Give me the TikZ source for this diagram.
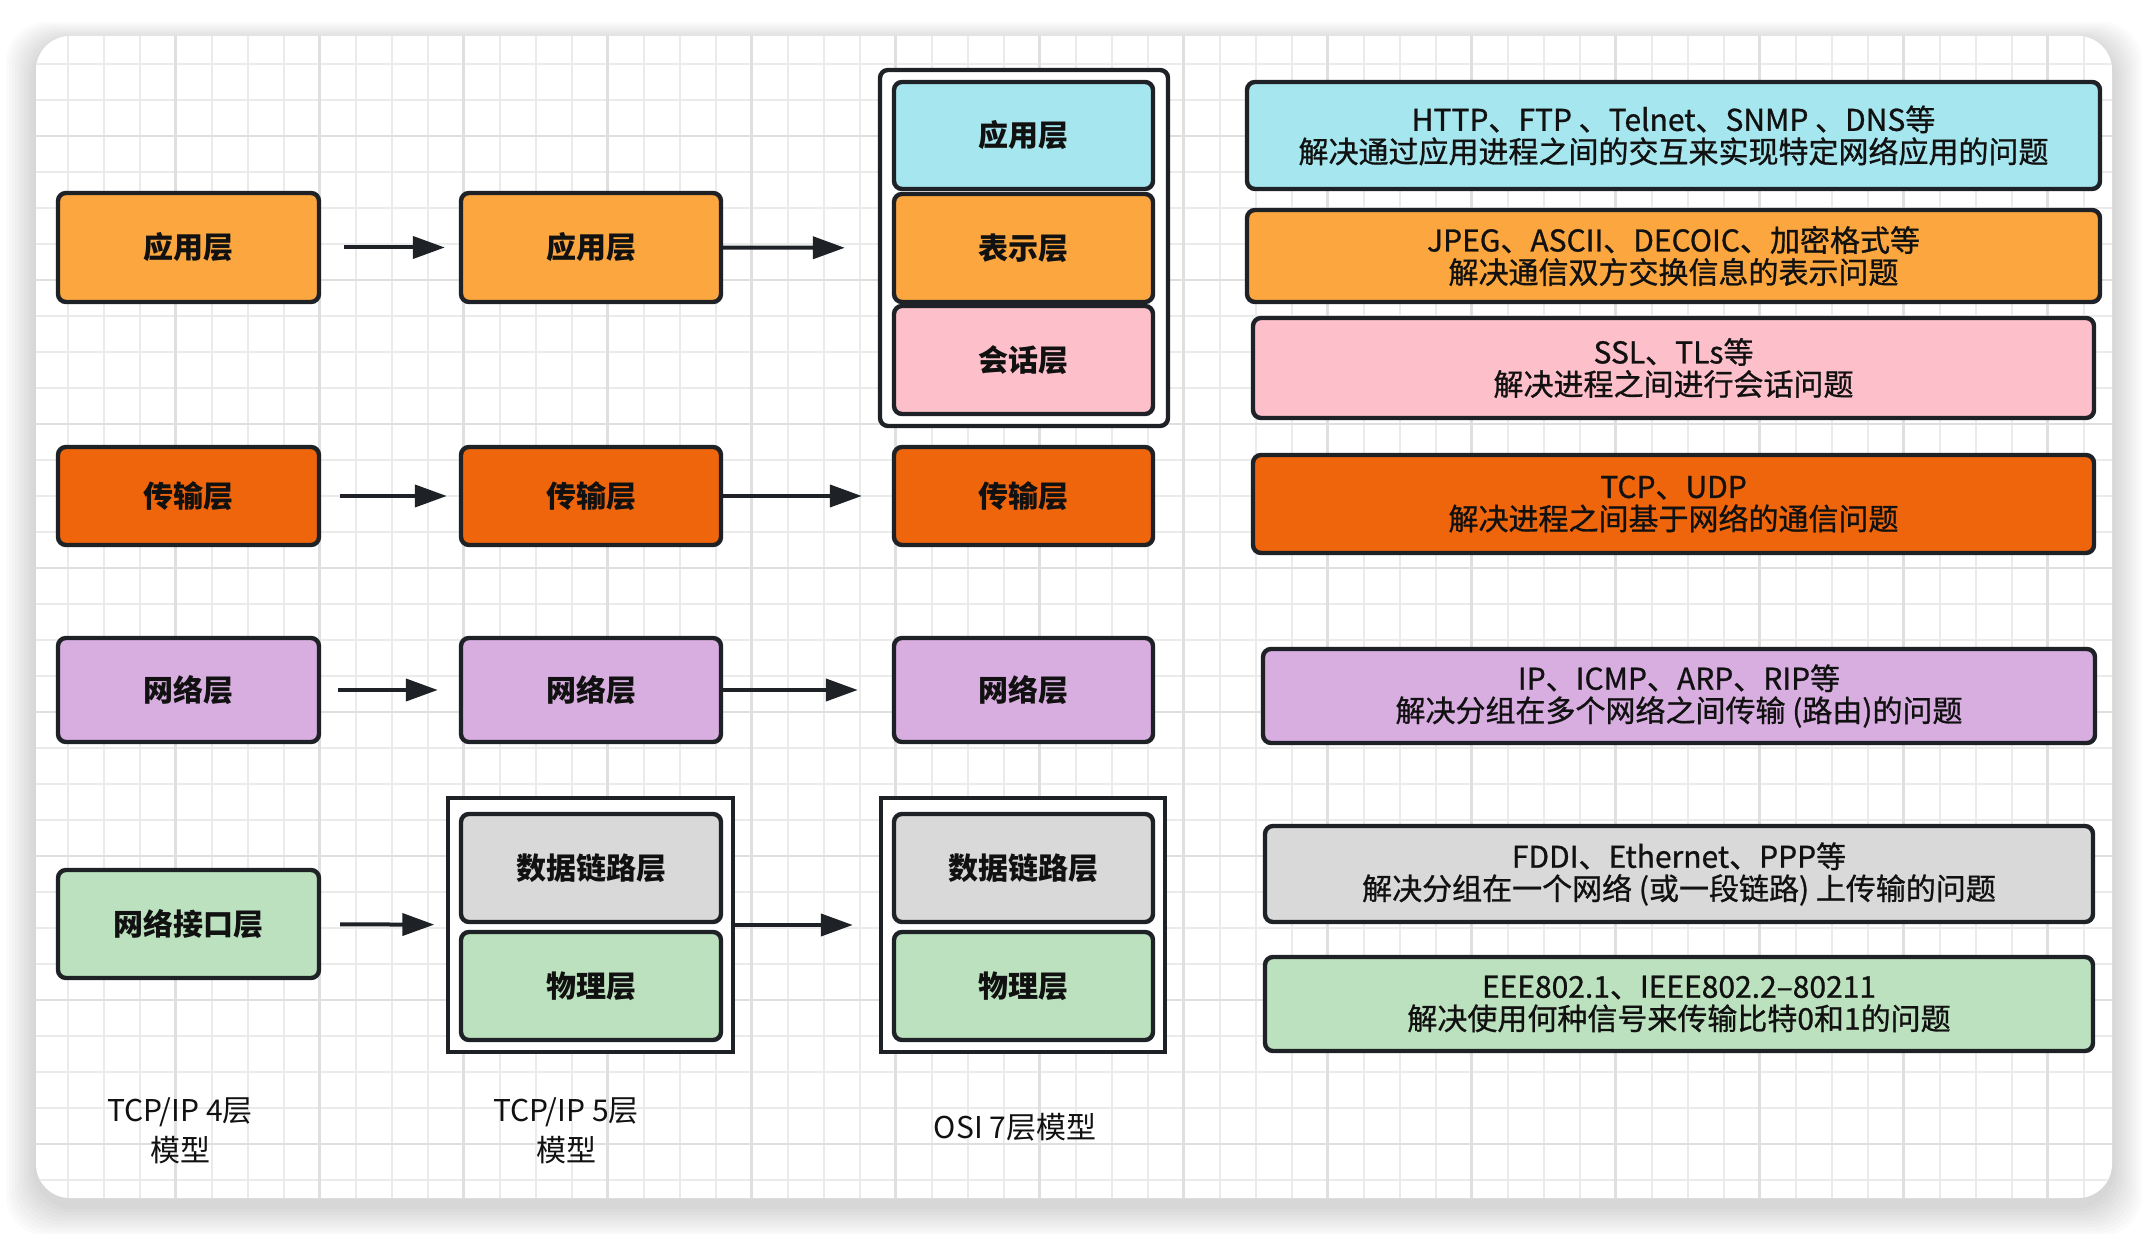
\documentclass[tikz,border=0pt]{standalone}
\usepackage{fontspec}
\setmainfont{Noto Sans CJK SC}
\newfontfamily\descfont{Noto Sans CJK SC}[FakeBold=0.9,BoldFont={Noto Sans CJK SC}]
\usetikzlibrary{arrows.meta}
\definecolor{edge}{HTML}{1E2126}
\definecolor{ink}{HTML}{111111}
\definecolor{appc}{HTML}{FBA63F}
\definecolor{trnc}{HTML}{EE650C}
\definecolor{netc}{HTML}{D8ADE0}
\definecolor{ifc}{HTML}{BCE1BE}
\definecolor{dlc}{HTML}{D9D9D9}
\definecolor{cyanc}{HTML}{A6E6EE}
\definecolor{pinkc}{HTML}{FDBFC9}
\definecolor{gridthin}{HTML}{EBEBEB}
\definecolor{gridthick}{HTML}{DFDFDF}
\begin{document}
\begin{tikzpicture}[x=0.5pt,y=-0.5pt,
	layer/.style={draw=edge,line width=2.2pt,rounded corners=4pt,minimum width=130pt,minimum height=54pt,text=ink,font=\bfseries\fontsize{15}{16}\selectfont},
	info/.style={layer,align=center,font=\descfont\bfseries\fontsize{15}{16}\selectfont},
	group/.style={draw=edge,line width=2.2pt,fill=white},
	arr/.style={draw=edge,line width=2pt,-{Triangle[length=16pt,width=11pt]}},
	modelname/.style={align=center,text=ink,font=\fontsize{15}{20}\selectfont}]
	\useasboundingbox (0,0) rectangle (2148,1234);
	\fill[white] (0,0) rectangle (2148,1234);
	\foreach \s in {1,...,10}
		\fill[black,opacity=0.014,rounded corners=20pt] (36-3*\s,36-2*\s+6) rectangle (2112+3*\s,1198+3*\s+8);
	\fill[white,rounded corners=17pt] (36,36) rectangle (2112,1198);
	\begin{scope}
	\clip[rounded corners=17pt] (36,36) rectangle (2112,1198);
	\foreach \gx in {67.5,103.5,...,2110} \draw[gridthin,line width=1pt] (\gx,36) -- (\gx,1198);
	\foreach \gy in {64,100,...,1196} \draw[gridthin,line width=1pt] (36,\gy) -- (2112,\gy);
	\foreach \gx in {175.5,319.5,...,2110} \draw[gridthick,line width=1.3pt] (\gx,36) -- (\gx,1198);
	\foreach \gy in {136,280,...,1196} \draw[gridthick,line width=1.3pt] (36,\gy) -- (2112,\gy);
	\end{scope}

	\node[layer,fill=appc,minimum width=130.5pt,minimum height=54.5pt] (a4) at (188.5,247.5) {应用层};
	\node[layer,fill=trnc,minimum width=130.5pt,minimum height=49pt] (t4) at (188.5,496) {传输层};
	\node[layer,fill=netc,minimum width=130.5pt,minimum height=52pt] (n4) at (188.5,690) {网络层};
	\node[layer,fill=ifc,minimum width=130.5pt,minimum height=54pt] (i4) at (188.5,924) {网络接口层};

	\node[layer,fill=appc,minimum height=54.5pt] (a5) at (591,247.5) {应用层};
	\node[layer,fill=trnc,minimum height=49pt] (t5) at (591,496) {传输层};
	\node[layer,fill=netc,minimum height=52pt] (n5) at (591,690) {网络层};
	\node[group,minimum width=142.5pt,minimum height=127pt] (g5) at (590.5,925) {};
	\node[layer,fill=dlc] (d5) at (591,868) {数据链路层};
	\node[layer,fill=ifc] (p5) at (591,986) {物理层};

	\node[group,rounded corners=4pt,minimum width=144pt,minimum height=178pt] (u7) at (1024,248) {};
	\node[layer,fill=cyanc,minimum width=129.5pt,minimum height=53.5pt] (a7) at (1023.5,135.5) {应用层};
	\node[layer,fill=appc,minimum width=129.5pt] (pr7) at (1023.5,248) {表示层};
	\node[layer,fill=pinkc,minimum width=129.5pt] (s7) at (1023.5,360) {会话层};
	\node[layer,fill=trnc,minimum width=129.5pt,minimum height=49pt] (t7) at (1023.5,496) {传输层};
	\node[layer,fill=netc,minimum width=129.5pt,minimum height=52pt] (n7) at (1023.5,690) {网络层};
	\node[group,minimum width=142pt,minimum height=127pt] (l7) at (1023,925) {};
	\node[layer,fill=dlc,minimum width=129.5pt] (d7) at (1023.5,868) {数据链路层};
	\node[layer,fill=ifc,minimum width=129.5pt] (p7) at (1023.5,986) {物理层};

	\node[info,fill=cyanc,minimum width=426.5pt,minimum height=53.5pt] (r1) at (1673.5,135.5) {HTTP、FTP 、Telnet、SNMP 、DNS等\\解决通过应用进程之间的交互来实现特定网络应用的问题};
	\node[info,fill=appc,minimum width=426.5pt,minimum height=46pt] (r2) at (1673.5,256) {JPEG、ASCII、DECOIC、加密格式等\\解决通信双方交换信息的表示问题};
	\node[info,fill=pinkc,minimum width=420.5pt,minimum height=50pt] (r3) at (1673.5,368) {SSL、TLs等\\解决进程之间进行会话问题};
	\node[info,fill=trnc,minimum width=420.5pt,minimum height=49pt] (r4) at (1673.5,504) {TCP、UDP\\解决进程之间基于网络的通信问题};
	\node[info,fill=netc,minimum width=416pt,minimum height=47pt] (r5) at (1679,696) {IP、ICMP、ARP、RIP等\\解决分组在多个网络之间传输 (路由)的问题};
	\node[info,fill=dlc,minimum width=414pt,minimum height=48pt] (r6) at (1679,874) {FDDI、Ethernet、PPP等\\解决分组在一个网络 (或一段链路) 上传输的问题};
	\node[info,fill=ifc,minimum width=414pt,minimum height=47pt] (r7) at (1679,1004) {EEE802.1、IEEE802.2–80211\\解决使用何种信号来传输比特0和1的问题};

	\node[modelname] (m4) at (180,1131) {TCP/IP 4层\\模型};
	\node[modelname] (m5) at (566,1131) {TCP/IP 5层\\模型};
	\node[modelname] (m7) at (1015,1127) {OSI 7层模型};

	\draw[arr,shorten <=11.5pt,shorten >=7pt] (a4) -- (a5);
	\draw[arr,shorten <=9.5pt,shorten >=6pt] (t4) -- (t5);
	\draw[arr,shorten <=8.5pt,shorten >=10.5pt] (n4) -- (n5);
	\draw[arr,shorten <=9.5pt,shorten >=5.75pt] (i4) -- (g5);
	\draw[arr,shorten >=16.5pt] (a5) -- (u7);
	\draw[arr,shorten >=15pt] (t5) -- (t7);
	\draw[arr,shorten >=17pt] (n5) -- (n7);
	\draw[arr,shorten >=13pt] (g5) -- (l7);
\end{tikzpicture}
\end{document}
